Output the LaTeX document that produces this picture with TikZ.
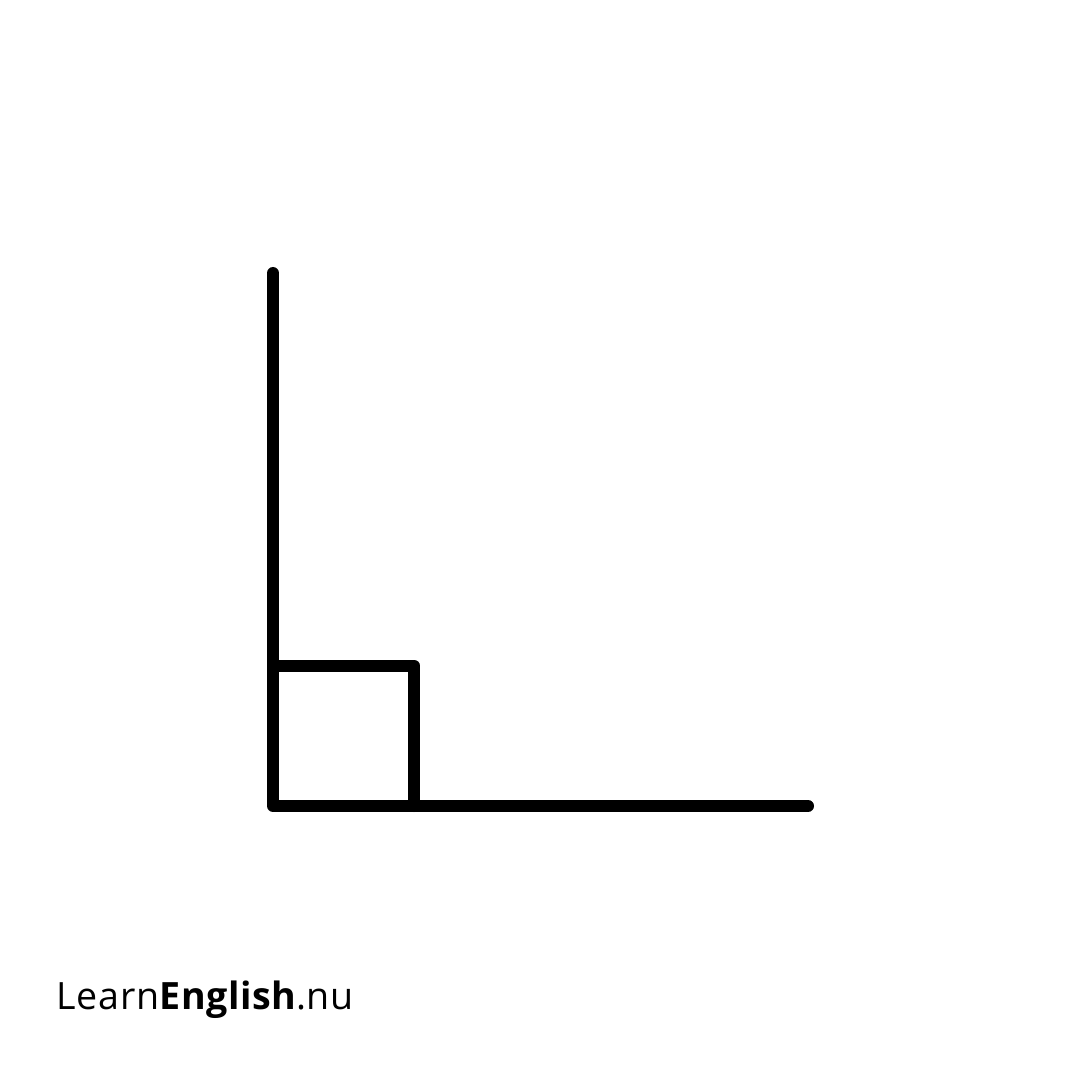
\documentclass[tikz,border=0pt]{standalone}
\usepackage{fontspec}
\setmainfont{Open Sans}[LetterSpace=1.5]
\begin{document}
\begin{tikzpicture}[x=0.5pt,y=-0.5pt,
  stroke/.style={line width=6pt,line cap=round,line join=round,black},
  brand/.style={anchor=base west,inner sep=0pt,font=\fontsize{18.8pt}{22pt}\selectfont}]
\useasboundingbox[fill=white] (0,0) rectangle (1080,1080);
\coordinate (top) at (273,273);
\coordinate (corner) at (273,806);
\coordinate (right) at (808,806);
\coordinate (sqa) at (273,665.5);
\coordinate (sqb) at (414,665.5);
\coordinate (sqc) at (414,806);
\draw[stroke] (top) -- (corner) -- (right);
\draw[stroke] (sqa) -- (sqb) -- (sqc);
\node[brand] (logo) at (56.5,1009.5) {Learn\textbf{English}.nu};
\end{tikzpicture}
\end{document}
